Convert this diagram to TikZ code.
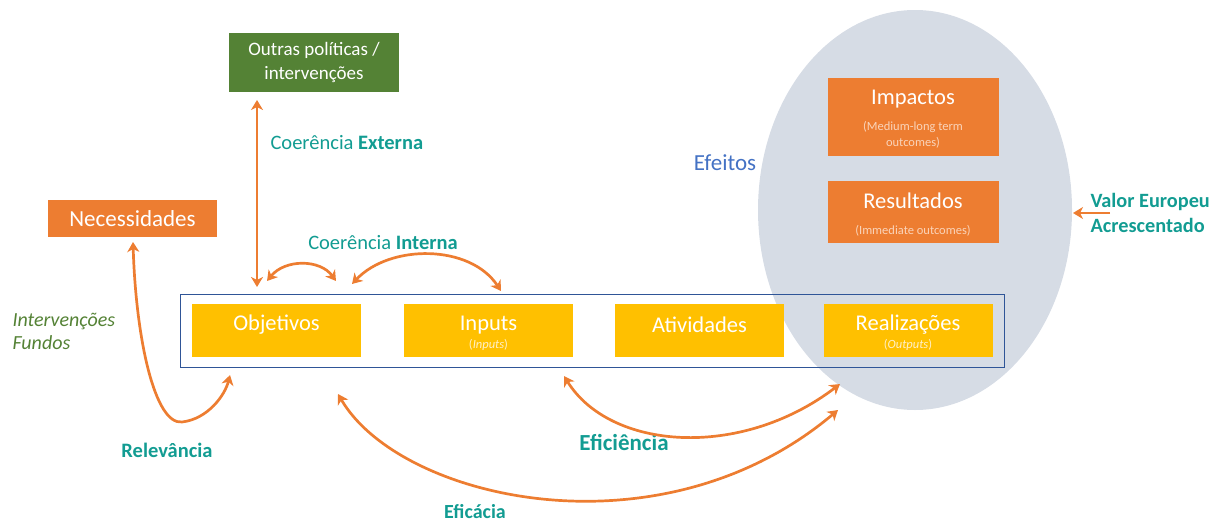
\documentclass[tikz,border=0pt]{standalone}
\usepackage{fontspec}
\setmainfont{Carlito}
\usetikzlibrary{arrows.meta}
\definecolor{laranja}{RGB}{237,125,49}
\definecolor{amarelo}{RGB}{255,192,0}
\definecolor{verde}{RGB}{84,130,53}
\definecolor{azul}{RGB}{47,85,151}
\definecolor{cinza}{RGB}{214,220,229}
\definecolor{turquesa}{RGB}{18,156,146}
\definecolor{azulclaro}{RGB}{68,114,196}
\definecolor{peach}{RGB}{250,212,186}
\definecolor{creme}{RGB}{255,240,200}
\begin{document}
\begin{tikzpicture}[x=1pt,y=-1pt,
  caixa/.style={inner sep=0pt, minimum width=170pt, text=white, align=center},
  texto/.style={text=white, font=\fontsize{22.5}{24}\selectfont},
  sub/.style={font=\fontsize{12.5}{16}\selectfont, align=center},
  seta/.style={draw=laranja, line width=2.7pt, {Stealth[length=10pt,width=12pt,inset=3pt]}-{Stealth[length=10pt,width=12pt,inset=3pt]}},
  rotulo/.style={text=turquesa, font=\fontsize{20.5}{24}\selectfont}]
\useasboundingbox (0,0) rectangle (1212,522);
\fill[cinza] (915,210) ellipse [x radius=157pt, y radius=200pt];

\node[caixa, fill=verde, minimum height=59pt, font=\fontsize{19}{24}\selectfont] (outras) at (314,62.5) {Outras políticas /\\intervenções};
\node[caixa, fill=laranja, minimum width=169pt, minimum height=37pt, font=\fontsize{23}{24}\selectfont] (necess) at (132.5,218.5) {Necessidades};
\node[draw=azul, line width=0.9pt, minimum width=824pt, minimum height=73pt] (quadro) at (592,330.5) {};

\node[caixa, fill=amarelo, minimum width=169pt, minimum height=53pt] (obj) at (276.5,330.5) {};
\node[caixa, fill=amarelo, minimum width=169pt, minimum height=53pt] (inp) at (488.5,330.5) {};
\node[caixa, fill=amarelo, minimum width=169pt, minimum height=53pt] (ativ) at (699.5,330.5) {};
\node[caixa, fill=amarelo, minimum width=169pt, minimum height=53pt] (real) at (908,330.5) {};
\node[texto] (tobj) at (276.5,325) {Objetivos};
\node[texto] (tinp) at (488.5,325) {Inputs};
\node[sub, text=creme] (sinp) at (488.5,345) {(\textit{Inputs})};
\node[texto] (tativ) at (699.5,325) {Atividades};
\node[texto] (treal) at (908,325) {Realizações};
\node[sub, text=creme] (sreal) at (908,345) {(\textit{Outputs})};

\node[caixa, fill=laranja, minimum width=171pt, minimum height=78pt] (impac) at (913,116.5) {};
\node[texto] (timpac) at (913,99) {Impactos};
\node[sub, text=peach] (simpac) at (913,135) {(Medium-long term\\outcomes)};
\node[caixa, fill=laranja, minimum width=171pt, minimum height=62pt] (result) at (913,212) {};
\node[texto] (tresult) at (913,201) {Resultados};
\node[sub, text=peach] (sresult) at (913,231) {(Immediate outcomes)};

\node[text=azulclaro, font=\fontsize{23}{24}\selectfont] (efeitos) at (725,163) {Efeitos};
\node[rotulo, anchor=west] (cext) at (267,143) {Coerência \textbf{Externa}};
\node[rotulo] (cint) at (383,243) {Coerência \textbf{Interna}};
\node[text=verde, font=\itshape\fontsize{20}{23}\selectfont, align=left, anchor=west] (fundos) at (9,331) {Intervenções\\Fundos};
\node[rotulo, font=\bfseries\fontsize{20.5}{24}\selectfont] (relev) at (167,450) {Relevância};
\node[rotulo, font=\bfseries\fontsize{23}{24}\selectfont] (efic) at (624,442) {Eficiência};
\node[rotulo, font=\bfseries\fontsize{20}{22}\selectfont] (eficacia) at (475,512) {Eficácia};
\node[rotulo, font=\bfseries\fontsize{20.3}{25}\selectfont, align=left, anchor=west] (valor) at (1087,213) {Valor Europeu\\Acrescentado};

% pontas das setas
\coordinate (e1) at (257,100);
\coordinate (e2) at (257,287);
\coordinate (i1) at (267,281);
\coordinate (i2) at (336,281);
\coordinate (i3) at (352,284);
\coordinate (i4) at (501,291);
\coordinate (r1) at (133,242);
\coordinate (r2) at (230,375);
\coordinate (f1) at (564,376);
\coordinate (f2) at (840,384);
\coordinate (c1) at (338,394);
\coordinate (c2) at (838,410);
\coordinate (v2) at (1073,213);

\path[seta] (e1) -- (e2);
\path[seta] (i1) .. controls (285,259) and (320,259) .. (i2);
\path[seta] (i3) .. controls (390,244) and (470,244) .. (i4);
\path[seta] (r1) .. controls (136,340) and (155,425) .. (182,422) .. controls (208,419) and (225,395) .. (r2);
\path[seta] (f1) .. controls (610,450) and (740,460) .. (f2);
\path[seta] (c1) .. controls (400,500) and (660,560) .. (c2);
\path[draw=laranja, line width=2.7pt, -{Stealth[length=10pt,width=12pt,inset=3pt]}] (valor.west) ++(23pt,0) -- (v2);
\end{tikzpicture}
\end{document}
